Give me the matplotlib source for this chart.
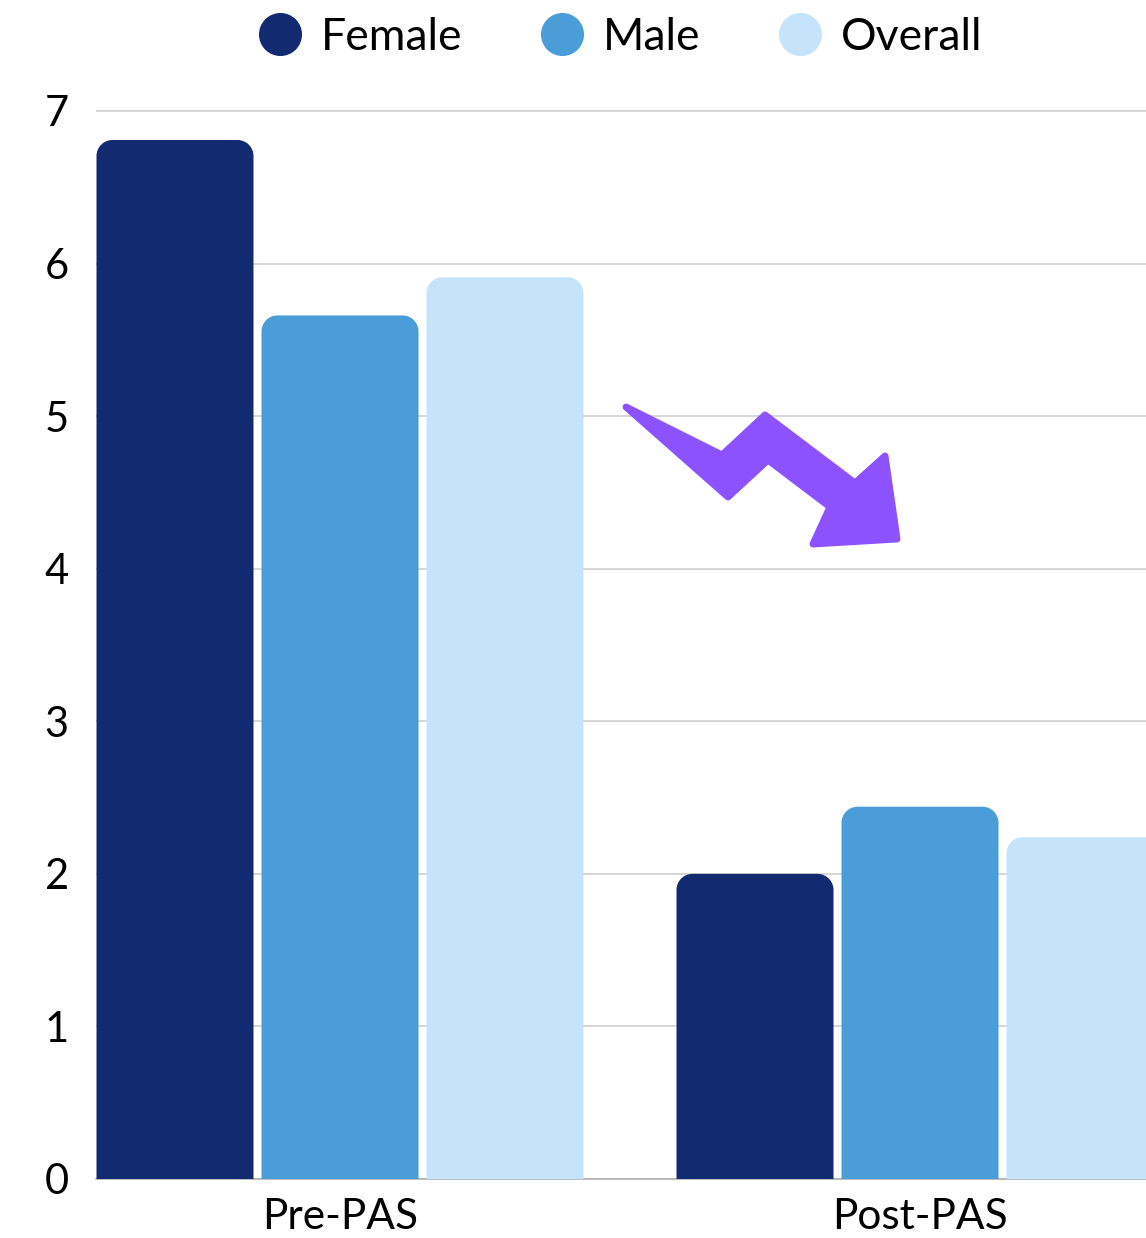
import matplotlib
matplotlib.use("Agg")
import matplotlib.pyplot as plt
from matplotlib.path import Path
from matplotlib.patches import PathPatch, Polygon
from matplotlib.lines import Line2D
import numpy as np

plt.rcParams['font.family'] = ['Lato', 'DejaVu Sans']

categories = ["Pre-PAS", "Post-PAS"]
series_names = ["Female", "Male", "Overall"]
female = [6.81, 2.00]
male = [5.66, 2.44]
overall = [5.91, 2.24]
colors = ["#112A70", "#4A9DD6", "#C6E3FC"]
yticks = [0, 1, 2, 3, 4, 5, 6, 7]

W, H = 1146, 1238
fig = plt.figure(figsize=(W / 100, H / 100), dpi=100)
ppu = (1179 - 111) / 7.0
ymax = 7.2
ax = fig.add_axes([96 / W, (H - 1179) / H, 1050 / W, ymax * ppu / H])
xmin, xmax = -244 / 580, 806 / 580
ax.set_xlim(xmin, xmax)
ax.set_ylim(0, ymax)

slot = 165 / 580
bw = 157 / 580
x = np.arange(len(categories))
rx = 16 / 580
ry = 16 / ppu
k = 0.5523

def rounded_top(x0, x1, h):
    verts = [(x0, 0), (x0, h - ry), (x0, h - ry + k * ry), (x0 + rx - k * rx, h), (x0 + rx, h),
             (x1 - rx, h), (x1 - rx + k * rx, h), (x1, h - ry + k * ry), (x1, h - ry),
             (x1, 0), (x0, 0)]
    codes = [Path.MOVETO, Path.LINETO, Path.CURVE4, Path.CURVE4, Path.CURVE4,
             Path.LINETO, Path.CURVE4, Path.CURVE4, Path.CURVE4, Path.LINETO, Path.CLOSEPOLY]
    return Path(verts, codes)

for i, (vals, c) in enumerate(zip([female, male, overall], colors)):
    bars = ax.bar(x + (i - 1) * slot, vals, width=bw, color=c)
    for b in bars:
        x0 = b.get_x(); x1 = x0 + b.get_width(); h = b.get_height()
        b.set_visible(False)
        ax.add_patch(PathPatch(rounded_top(x0, x1, h), facecolor=c, edgecolor='none', zorder=3))

ax.set_yticks(yticks)
ax.set_yticklabels([str(t) for t in yticks], fontsize=30)
ax.set_xticks(x)
ax.set_xticklabels(categories, fontsize=30.5)
ax.tick_params(axis='x', length=0, pad=14)
for lbl in ax.get_yticklabels():
    lbl.set_horizontalalignment('left')
ax.tick_params(axis='y', length=0, pad=37)
ax.grid(axis='y', color='#CCCCCC', linewidth=1.1, zorder=0)
ax.set_axisbelow(True)
for s in ['top', 'right', 'left']:
    ax.spines[s].set_visible(False)
ax.spines['bottom'].set_color('#AAAAAA')
ax.spines['bottom'].set_linewidth(1.1)

# purple zigzag arrow (pixel coords -> data)
arrow_px = [(626, 407), (722, 455), (765, 415), (855, 483), (885, 456), (897, 539),
            (813, 544), (830, 507), (768, 460), (728, 497)]
def px2data(px, py):
    return (xmin + (px - 96) / 580, (1179 - py) / ppu)
poly = Polygon([px2data(*p) for p in arrow_px], closed=True, facecolor='#8C52FF',
               edgecolor='#8C52FF', linewidth=5, joinstyle='round', zorder=4)
ax.add_patch(poly)

handles = [Line2D([], [], linestyle='none', marker='o', markersize=31, markerfacecolor=c,
                  markeredgecolor='none') for c in colors]
fig.legend(handles, series_names, loc='center', bbox_to_anchor=(620 / W, 1 - 37 / H),
           ncol=3, frameon=False, fontsize=32, handlelength=1.0, handletextpad=0.42,
           columnspacing=1.75)

fig.savefig("out.png", dpi=100)
